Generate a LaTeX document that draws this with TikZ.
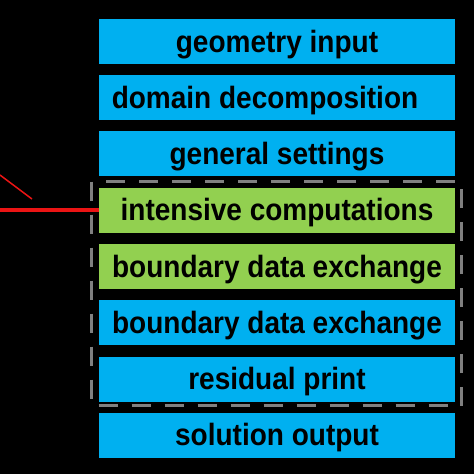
\documentclass[tikz,border=0pt]{standalone}
\usepackage{fontspec}
\setmainfont{Liberation Sans}
\definecolor{boxblue}{RGB}{0,176,240}
\definecolor{boxgreen}{RGB}{146,208,80}
\definecolor{framegray}{RGB}{128,128,128}
\definecolor{linered}{RGB}{235,20,20}
\newcommand{\lbl}[1]{\scalebox{1}[1.1]{#1}}
\begin{document}
\begin{tikzpicture}[x=1pt,y=-1pt,
  stage/.style={draw=none, minimum width=356pt, minimum height=45pt, inner sep=0pt,
    text height=24pt, text depth=3pt, font=\fontsize{28}{30}\selectfont\bfseries, text=black},
  bluestage/.style={stage, fill=boxblue},
  greenstage/.style={stage, fill=boxgreen},
  frame/.style={draw=framegray, line width=3.5pt, dash pattern=on 19pt off 14pt},
  redline/.style={draw=linered, line width=4pt},
  thinred/.style={draw=linered, line width=1.5pt}]
\fill[black] (0,0) rectangle (474,474);
\useasboundingbox (0,0) rectangle (474,474);
\node[bluestage] (geo) at (277,41.5) {\lbl{geometry input}};
\node[bluestage] (dom) at (277,97.5) {\lbl{\hspace*{-24pt}domain decomposition}};
\node[bluestage] (gen) at (277,153.5) {\lbl{general settings}};
\node[greenstage] (int) at (277,210) {\lbl{intensive computations}};
\node[greenstage] (bdg) at (277,266.5) {\lbl{boundary data exchange}};
\node[bluestage] (bdb) at (277,322.5) {\lbl{boundary data exchange}};
\node[bluestage] (res) at (277,379) {\lbl{residual print}};
\node[bluestage] (sol) at (277,435) {\lbl{solution output}};
\draw[frame] (91.5,181.5) rectangle (461.5,405.5);
\coordinate (rstart) at (0,209.7);
\draw[redline] (rstart) -- (rstart -| int.west);
\coordinate (d1) at (0,175);
\coordinate (d2) at (32,199);
\draw[thinred] (d1) -- (d2);
\end{tikzpicture}
\end{document}
